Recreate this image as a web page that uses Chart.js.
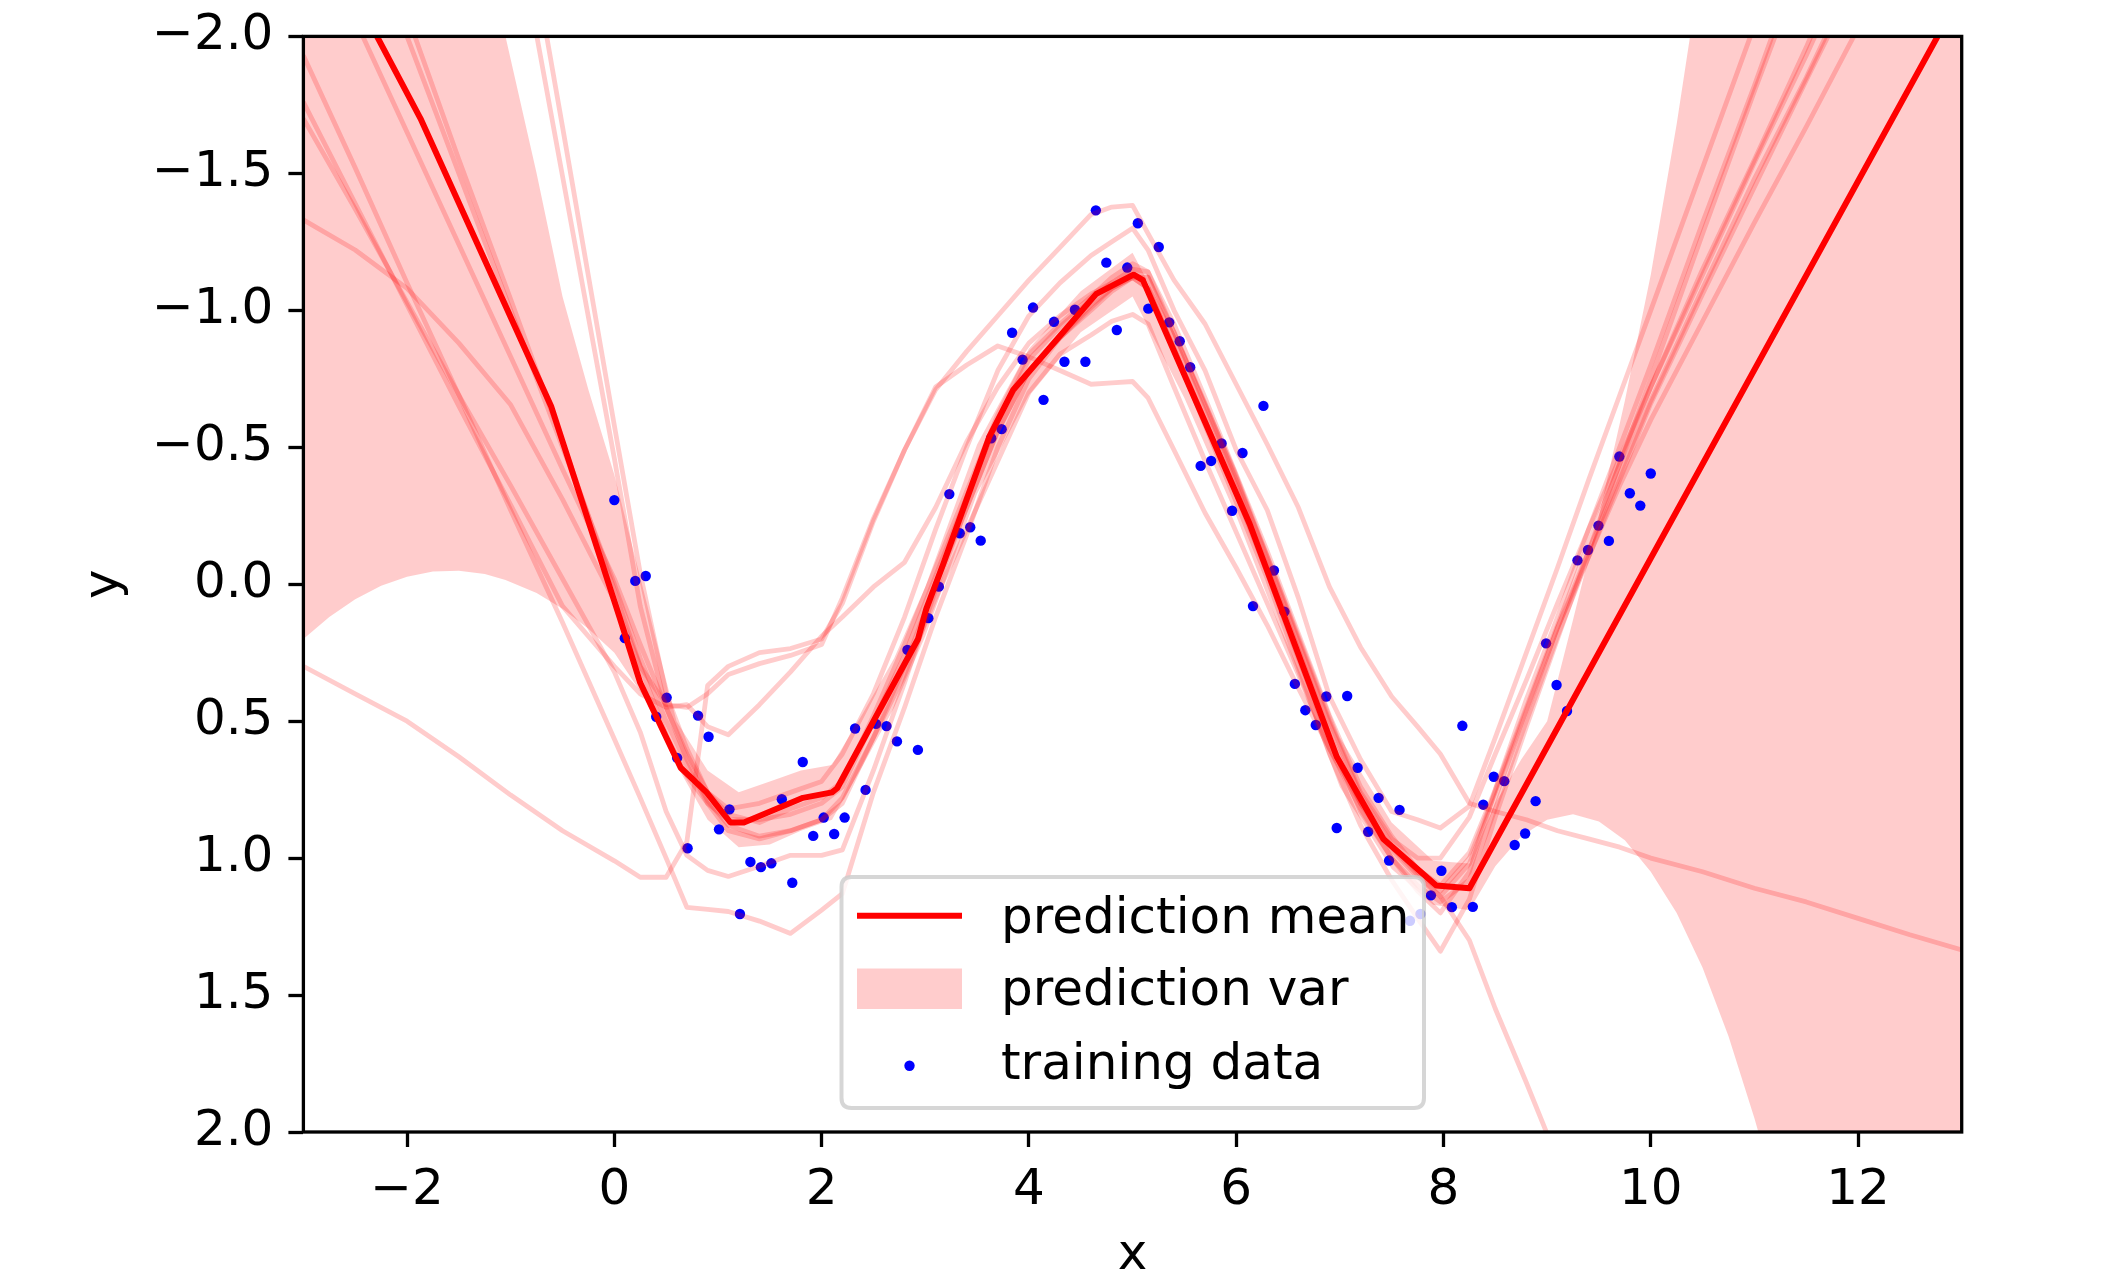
<!DOCTYPE html>
<html>
<head>
<meta charset="utf-8">
<script src="https://cdn.jsdelivr.net/npm/chart.js@4.4.1/dist/chart.umd.min.js"></script>
<style>
html,body{margin:0;padding:0;background:#fff;}
#wrap{width:2114px;height:1286px;position:relative;}
canvas{display:block;}
</style>
</head>
<body>
<div id="wrap"><canvas id="c" width="2114" height="1286"></canvas></div>
<script>
// ---------------- data ----------------
const xTicks = [-2, 0, 2, 4, 6, 8, 10, 12];
const yTicks = [-2.0, -1.5, -1.0, -0.5, 0.0, 0.5, 1.0, 1.5, 2.0];

// training data
const trainX = [0.000,0.101,0.202,0.303,0.404,0.505,0.606,0.707,0.808,0.909,
  1.010,1.111,1.212,1.313,1.414,1.515,1.616,1.717,1.818,1.919,
  2.020,2.121,2.222,2.323,2.424,2.525,2.626,2.727,2.828,2.929,
  3.030,3.131,3.232,3.333,3.434,3.535,3.636,3.737,3.838,3.939,
  4.040,4.141,4.242,4.343,4.444,4.545,4.646,4.747,4.848,4.949,
  5.051,5.152,5.253,5.354,5.455,5.556,5.657,5.758,5.859,5.960,
  6.061,6.162,6.263,6.364,6.465,6.566,6.667,6.768,6.869,6.970,
  7.071,7.172,7.273,7.374,7.475,7.576,7.677,7.778,7.879,7.980,
  8.081,8.182,8.283,8.384,8.485,8.586,8.687,8.788,8.889,8.990,
  9.091,9.192,9.293,9.394,9.495,9.596,9.697,9.798,9.899,10.000];
const trainY = [-0.307,0.197,-0.012,-0.030,0.484,0.414,0.634,0.964,0.480,0.557,
  0.895,0.822,1.204,1.014,1.033,1.019,0.785,1.090,0.649,0.919,
  0.852,0.912,0.852,0.527,0.751,0.510,0.518,0.574,0.240,0.605,
  0.124,0.009,-0.329,-0.186,-0.208,-0.159,-0.533,-0.566,-0.918,-0.820,
  -1.010,-0.673,-0.958,-0.812,-1.002,-0.812,-1.365,-1.174,-0.928,-1.156,
  -1.318,-1.006,-1.231,-0.956,-0.887,-0.792,-0.432,-0.450,-0.514,-0.268,
  -0.479,0.080,-0.651,-0.050,0.100,0.364,0.460,0.514,0.410,0.890,
  0.408,0.670,0.904,0.780,1.009,0.824,1.229,1.204,1.136,1.046,
  1.179,0.517,1.178,0.805,0.703,0.719,0.952,0.910,0.792,0.216,
  0.368,0.463,-0.087,-0.125,-0.214,-0.158,-0.466,-0.332,-0.287,-0.404];

// prediction mean (vertices of piecewise-linear curve)
const meanX = [-3,-2.29,-1.87,-0.61,0.05,0.25,0.64,0.89,1.12,1.25,1.82,2.10,2.15,2.93,3.01,3.17,3.62,3.85,4.65,5.01,5.10,6.13,6.97,7.42,7.93,8.25,13];
const meanY = [-2.51,-2.0,-1.70,-0.65,0.12,0.36,0.67,0.76,0.87,0.87,0.78,0.76,0.745,0.20,0.09,-0.07,-0.54,-0.71,-1.06,-1.13,-1.11,-0.22,0.63,0.93,1.10,1.11,-2.16];

// prediction var band
const bandX = [-3,-2.75,-2.5,-2.25,-2,-1.75,-1.5,-1.25,-1.05,-0.75,-0.5,-0.25,0,0.3,0.6,0.9,1.2,1.5,1.8,2.1,2.4,2.7,3.0,3.5,4.0,4.5,5.0,5.5,6.0,6.5,7.0,7.5,7.9,8.25,8.5,8.75,9.0,9.25,9.5,9.75,10.0,10.25,10.5,10.75,11.0,11.25,12,13];
const bandTop = [-5.5,-5.05,-4.6,-4.15,-3.7,-3.25,-2.8,-2.37,-2.0,-1.5,-1.05,-0.71,-0.40,0.05,0.50,0.68,0.76,0.72,0.68,0.66,0.47,0.27,0.01,-0.51,-0.86,-1.07,-1.21,-0.85,-0.42,0.07,0.56,0.87,1.01,1.02,0.80,0.64,0.50,0.13,-0.25,-0.67,-1.13,-1.68,-2.3,-2.9,-3.5,-4.1,-5.9,-8.0];
const bandBottom = [0.20,0.12,0.055,0.006,-0.027,-0.046,-0.049,-0.037,-0.015,0.032,0.09,0.163,0.25,0.42,0.66,0.86,0.96,0.95,0.90,0.86,0.66,0.45,0.19,-0.33,-0.69,-0.92,-1.05,-0.68,-0.25,0.24,0.74,1.04,1.17,1.19,1.03,0.92,0.86,0.84,0.866,0.935,1.05,1.20,1.40,1.65,1.95,2.28,3.5,5.4];

// sampled predictions (common x grid)
const sampleX = [-3,-2.5,-2,-1.5,-1,-0.5,0,0.25,0.5,0.7,0.9,1.1,1.4,1.7,2.0,2.2,2.5,2.8,3.1,3.4,3.7,4.0,4.3,4.6,4.8,5.0,5.15,5.4,5.7,6.0,6.3,6.6,6.9,7.2,7.5,7.75,7.97,8.25,8.5,8.8,9.1,9.4,9.7,10,10.5,11,11.5,12,12.5,13];
const sample1 = [0.30,0.40,0.50,0.63,0.77,0.90,1.01,1.07,1.07,0.94,0.37,0.30,0.25,0.235,0.20,0.07,-0.23,-0.49,-0.72,-0.80,-0.87,-0.83,-0.78,-0.73,-0.735,-0.74,-0.68,-0.49,-0.26,-0.06,0.15,0.38,0.60,0.80,0.96,1.06,1.14,1.30,1.55,1.82,2.10,2.35,2.60,2.85,3.30,3.70,4.10,4.50,4.90,5.30];
const sample2 = [-1.33,-1.22,-1.08,-0.88,-0.655,-0.31,0.06,0.30,0.44,0.45,0.40,0.33,0.29,0.26,0.22,0.05,-0.24,-0.49,-0.71,-0.85,-0.98,-1.11,-1.23,-1.35,-1.377,-1.383,-1.28,-1.11,-0.95,-0.73,-0.51,-0.28,0.01,0.23,0.41,0.52,0.62,0.80,0.83,0.86,0.90,0.93,0.96,1.00,1.05,1.11,1.16,1.22,1.28,1.335];
const sample3 = [-2.47,-2.06,-1.65,-1.24,-0.83,-0.42,-0.02,0.22,0.45,0.62,0.76,0.82,0.80,0.76,0.72,0.62,0.40,0.12,-0.20,-0.50,-0.78,-0.98,-1.10,-1.20,-1.25,-1.30,-1.22,-1.00,-0.78,-0.49,-0.27,0.05,0.41,0.64,0.83,0.86,0.89,0.81,0.56,0.25,-0.06,-0.38,-0.69,-1.00,-1.52,-2.04,-2.56,-3.08,-3.60,-4.12];
const sample4 = [-3.0,-2.5,-2.0,-1.5,-1.0,-0.5,0.0,0.27,0.50,0.66,0.80,0.90,0.93,0.90,0.86,0.78,0.56,0.33,0.05,-0.20,-0.45,-0.70,-0.84,-0.91,-0.96,-0.985,-0.95,-0.72,-0.45,-0.19,0.07,0.33,0.60,0.82,1.00,1.12,1.20,1.05,0.75,0.42,0.12,-0.20,-0.50,-0.80,-1.32,-1.82,-2.35,-2.85,-3.35,-3.90];
const sample5 = [-1.93,-1.52,-1.10,-0.69,-0.27,0.14,0.565,0.78,1.00,1.18,1.187,1.195,1.23,1.275,1.19,1.13,0.76,0.45,0.12,-0.18,-0.50,-0.75,-0.90,-1.02,-1.08,-1.12,-1.08,-0.86,-0.58,-0.30,-0.02,0.30,0.62,0.88,1.08,1.22,1.34,1.15,0.85,0.52,0.20,-0.12,-0.44,-0.75,-1.28,-1.80,-2.30,-2.85,-3.35,-3.90];
const sample6 = [-1.70,-1.37,-1.03,-0.69,-0.36,-0.02,0.32,0.54,0.83,0.99,1.045,1.067,1.03,0.99,0.99,0.97,0.68,0.36,0.02,-0.28,-0.56,-0.78,-0.90,-1.00,-1.07,-1.12,-1.12,-0.92,-0.65,-0.38,-0.10,0.20,0.50,0.76,0.93,1.00,1.00,0.85,0.62,0.35,0.07,-0.20,-0.46,-0.72,-1.15,-1.55,-1.96,-2.40,-2.80,-3.20];
const sample7 = [-1.76,-1.39,-1.02,-0.65,-0.29,0.08,0.30,0.40,0.45,0.44,0.52,0.55,0.44,0.32,0.19,0.12,0.01,-0.08,-0.28,-0.52,-0.72,-0.88,-0.98,-1.06,-1.10,-1.15,-1.14,-0.95,-0.68,-0.40,-0.12,0.18,0.48,0.74,0.92,1.04,1.10,0.98,0.75,0.45,0.15,-0.15,-0.44,-0.72,-1.13,-1.54,-1.93,-2.35,-2.75,-3.15];
const sample8 = [-3.12,-2.58,-2.08,-1.55,-1.04,-0.52,0.02,0.30,0.55,0.70,0.80,0.86,0.86,0.84,0.80,0.74,0.50,0.26,-0.03,-0.32,-0.60,-0.82,-0.94,-1.04,-1.10,-1.15,-1.12,-0.90,-0.63,-0.36,-0.07,0.24,0.55,0.80,0.97,1.07,1.14,1.02,0.78,0.47,0.16,-0.12,-0.40,-0.67,-1.08,-1.48,-1.85,-2.25,-2.65,-3.05];
const sample9 = [-6.6,-5.6,-4.6,-3.55,-2.52,-1.49,-0.46,0.08,0.45,0.64,0.79,0.88,0.92,0.90,0.86,0.80,0.56,0.30,0.00,-0.28,-0.56,-0.78,-0.90,-1.01,-1.08,-1.12,-1.08,-0.86,-0.60,-0.33,-0.04,0.27,0.57,0.83,1.00,1.10,1.16,1.08,0.82,0.50,0.19,-0.10,-0.38,-0.66,-1.06,-1.45,-1.84,-2.22,-2.60,-3.00];
const sample10 = [-7.0,-5.9,-4.9,-3.85,-2.75,-1.67,-0.58,-0.04,0.40,0.60,0.76,0.84,0.87,0.82,0.78,0.72,0.48,0.22,-0.06,-0.34,-0.62,-0.84,-0.95,-1.05,-1.12,-1.17,-1.14,-0.92,-0.66,-0.39,-0.09,0.21,0.51,0.77,0.95,1.05,1.12,1.00,0.76,0.46,0.16,-0.10,-0.36,-0.60,-0.96,-1.32,-1.67,-2.03,-2.39,-2.75];
const samples = [sample1,sample2,sample3,sample4,sample5,sample6,sample7,sample8,sample9,sample10];

const legendLabels = ['prediction mean', 'prediction var', 'training data'];

// ---------------- chart ----------------
const FONT = "'DejaVu Sans', sans-serif";
const zip = (xs, ys) => xs.map((x, i) => ({x: x, y: ys[i]}));
const minus = s => s.replace('-', '\u2212');

const datasets = [];
datasets.push({
  label: 'band top', data: zip(bandX, bandTop), borderWidth: 0, pointRadius: 0,
  backgroundColor: 'rgba(255,0,0,0.2)', fill: '+1', order: 4, tension: 0, clip: 0
});
datasets.push({
  label: 'band bottom', data: zip(bandX, bandBottom), borderWidth: 0, pointRadius: 0,
  backgroundColor: 'rgba(255,0,0,0.2)', fill: false, order: 4, tension: 0, clip: 0
});
datasets.push({
  label: 'training data', data: zip(trainX, trainY), showLine: false,
  pointRadius: 5.2, pointBackgroundColor: '#0000ff', pointBorderWidth: 0, order: 3
});
samples.forEach((s, k) => {
  datasets.push({
    label: 'sample ' + (k + 1), data: zip(sampleX, s), borderColor: 'rgba(255,0,0,0.2)',
    borderWidth: 4.8, pointRadius: 0, fill: false, order: 2, tension: 0, clip: 0,
    borderJoinStyle: 'round', borderCapStyle: 'butt'
  });
});
datasets.push({
  label: 'prediction mean', data: zip(meanX, meanY), borderColor: '#ff0000',
  borderWidth: 6, pointRadius: 0, fill: false, order: 1, tension: 0, clip: 0,
  borderJoinStyle: 'round'
});

const mplPlugin = {
  id: 'mpl',
  afterDatasetsDraw(chart) {
    const {ctx, chartArea: a} = chart;
    ctx.save();
    ctx.strokeStyle = '#000';
    ctx.lineWidth = 3.3;
    ctx.lineJoin = 'miter';
    ctx.strokeRect(a.left, a.top, a.right - a.left, a.bottom - a.top);
    ctx.restore();
  },
  afterDraw(chart) {
    const ctx = chart.ctx;
    ctx.save();
    const x0 = 841.5, y0 = 877, x1 = 1424, y1 = 1108, r = 10;
    ctx.beginPath();
    ctx.moveTo(x0 + r, y0);
    ctx.lineTo(x1 - r, y0); ctx.quadraticCurveTo(x1, y0, x1, y0 + r);
    ctx.lineTo(x1, y1 - r); ctx.quadraticCurveTo(x1, y1, x1 - r, y1);
    ctx.lineTo(x0 + r, y1); ctx.quadraticCurveTo(x0, y1, x0, y1 - r);
    ctx.lineTo(x0, y0 + r); ctx.quadraticCurveTo(x0, y0, x0 + r, y0);
    ctx.closePath();
    ctx.fillStyle = 'rgba(255,255,255,0.8)';
    ctx.fill();
    ctx.strokeStyle = 'rgba(204,204,204,0.8)';
    ctx.lineWidth = 4;
    ctx.stroke();
    // handles
    ctx.strokeStyle = '#ff0000'; ctx.lineWidth = 6; ctx.lineCap = 'butt';
    ctx.beginPath(); ctx.moveTo(857, 915.7); ctx.lineTo(962, 915.7); ctx.stroke();
    ctx.fillStyle = 'rgba(255,0,0,0.2)';
    ctx.fillRect(857, 968.5, 105, 40.5);
    ctx.fillStyle = '#0000ff';
    ctx.beginPath(); ctx.arc(909.5, 1065.7, 5.2, 0, Math.PI * 2); ctx.fill();
    // texts
    ctx.fillStyle = '#000';
    ctx.font = "50px 'DejaVu Sans'";
    ctx.textBaseline = 'alphabetic';
    ctx.textAlign = 'left';
    ctx.fillText(legendLabels[0], 1001, 932.7);
    ctx.fillText(legendLabels[1], 1001, 1005.3);
    ctx.fillText(legendLabels[2], 1001, 1078.7);
    ctx.restore();
  }
};

new Chart(document.getElementById('c'), {
  type: 'line',
  data: {datasets: datasets},
  plugins: [mplPlugin],
  options: {
    responsive: false,
    devicePixelRatio: 1,
    animation: false,
    events: [],
    layout: {padding: {top: 36.4, right: 152.3, bottom: 0, left: 0}},
    plugins: {legend: {display: false}, tooltip: {enabled: false}},
    elements: {line: {tension: 0}},
    scales: {
      x: {
        type: 'linear', position: 'bottom', min: -3, max: 13,
        afterBuildTicks: s => { s.ticks = xTicks.map(v => ({value: v})); },
        afterFit: s => { s.height = 1286 - 1132; s.paddingLeft = 0; s.paddingRight = 0; },
        ticks: {
          font: {family: FONT, size: 50}, color: '#000', padding: 14,
          maxRotation: 0, autoSkip: false,
          callback: v => minus(String(v))
        },
        grid: {display: true, drawOnChartArea: false, drawTicks: true, tickLength: 15, tickWidth: 3.3, tickColor: '#000'},
        border: {display: false},
        title: {display: true, text: 'x', font: {family: FONT, size: 50}, color: '#000', padding: {top: 0, bottom: 0}}
      },
      y: {
        type: 'linear', position: 'left', min: -2, max: 2, reverse: true,
        afterBuildTicks: s => { s.ticks = yTicks.map(v => ({value: v})); },
        afterFit: s => { s.width = 303.4; s.paddingTop = 0; s.paddingBottom = 0; },
        ticks: {
          font: {family: FONT, size: 50}, color: '#000', padding: 15,
          autoSkip: false,
          callback: v => minus(Number(v).toFixed(1))
        },
        grid: {display: true, drawOnChartArea: false, drawTicks: true, tickLength: 15, tickWidth: 3.3, tickColor: '#000'},
        border: {display: false},
        title: {display: true, text: 'y', font: {family: FONT, size: 50}, color: '#000', padding: {top: 75, bottom: 0}}
      }
    }
  }
});
</script>
</body>
</html>
